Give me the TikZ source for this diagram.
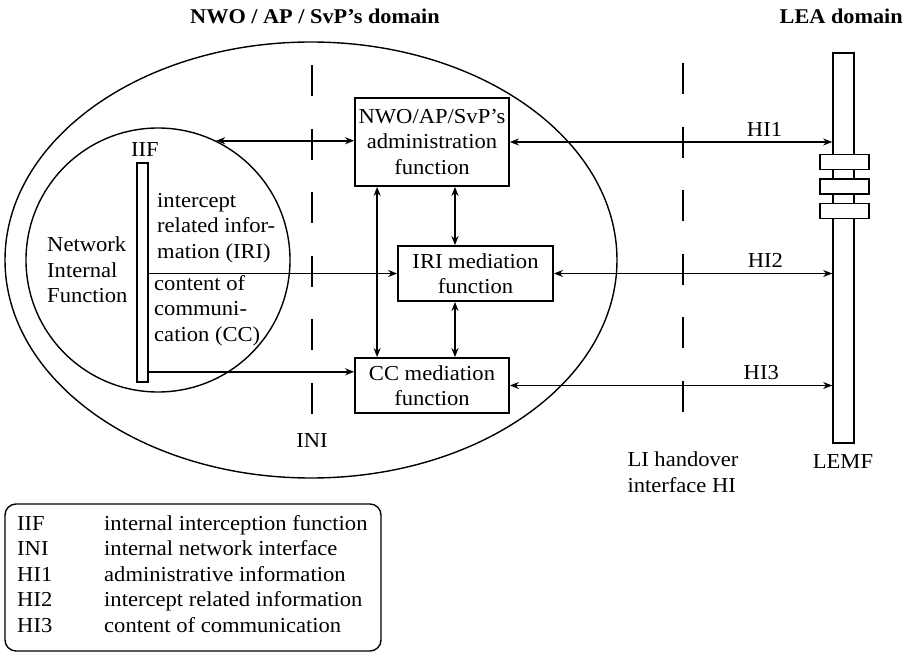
\documentclass[tikz,border=0pt]{standalone}
\usepackage{fontspec}
\setmainfont{Liberation Serif}[FakeStretch=1.06]
\usetikzlibrary{arrows.meta,shapes.geometric,calc}
\begin{document}
\begin{tikzpicture}[x=1pt,y=-1pt,
  every node/.style={font=\fontsize{21.3}{25.5}\selectfont, inner sep=0pt},
  title/.style={font=\fontsize{21}{25}\selectfont\bfseries},
  fbox/.style={draw, line width=1.8pt, minimum width=154pt, align=center},
  bar/.style={draw, line width=1.6pt, fill=white},
  link/.style={line width=1.6pt, -{Stealth[length=9pt,width=7pt]}},
  dlink/.style={line width=1.6pt, {Stealth[length=9pt,width=7pt]}-{Stealth[length=9pt,width=7pt]}},
  iface/.style={line width=1.7pt, dash pattern=on 31pt off 32.6pt},
  ring/.style={draw, line width=1.4pt},
  lbl/.style={align=left, anchor=north west}]
\useasboundingbox (0,0) rectangle (903,652);

% headings
\node[title] (hdnwo) at (315,16) {NWO / AP / SvP’s domain};
\node[title, anchor=east] (hdlea) at (903,16) {LEA domain};

% operator domain and network internal function
\node[ellipse, ring, minimum width=612pt, minimum height=436pt] (dom) at (311,260) {};
\node[circle, ring, minimum size=264pt] (nif) at (158,260) {};
\node[align=left, anchor=west] (niftxt) at (47,270) {Network\\Internal\\Function};

% internal interception function bar
\node[bar, minimum width=11pt, minimum height=219pt] (iif) at (142.5,272.5) {};
\node (iiftxt) at (145,150) {IIF};
\node[lbl] (iritxt) at (157,193) {intercept\\related infor-\\mation (IRI)};
\node[lbl] (cctxt) at (154,275) {content of\\communi-\\cation (CC)};

% interfaces
\draw[iface] (312,65) -- (312,416);
\draw[iface] (683,63) -- (683,414);
\node (ini) at (312,441) {INI};
\node[align=left] (hi) at (683,472) {LI handover\\interface HI};

% mediation functions
\node[fbox, minimum height=88pt] (adm) at (432,142) {NWO/AP/SvP’s\\administration\\function};
\node[fbox, minimum width=155pt, minimum height=55pt] (iri) at (475.5,273.5) {IRI mediation\\function};
\node[fbox, minimum height=55pt] (cc) at (432,385.5) {CC mediation\\function};

% law enforcement monitoring facility
\node[bar, minimum width=21pt, minimum height=390pt] (lemf) at (843.5,248) {};
\node[bar, minimum width=49pt, minimum height=15pt] (lb1) at (844.5,162) {};
\node[bar, minimum width=49pt, minimum height=15pt] (lb2) at (844.5,186.5) {};
\node[bar, minimum width=49pt, minimum height=15pt] (lb3) at (844.5,211) {};
\node (lemftxt) at (843,462) {LEMF};

% connections
\draw[dlink] (nif.64.5) -- (nif.64.5 -| adm.west);
\draw[link] (iif.east |- iri.west) -- (iri.west);
\coordinate (ccout) at ($(iif.south east)+(0,-11)$);
\draw[link] (ccout) -- (ccout -| cc.west);
\coordinate (admleft) at ($(adm.south west)+(23,0)$);
\coordinate (admright) at ($(adm.south)+(23,0)$);
\draw[dlink] (admleft) -- (admleft |- cc.north);
\draw[dlink] (admright) -- (admright |- iri.north);
\draw[dlink] (admright |- iri.south) -- (admright |- cc.north);

\draw[dlink] (adm.east) -- (adm.east -| lemf.west) node[pos=0.79, above=5pt] (hi1) {HI1};
\draw[dlink] (iri.east) -- (iri.east -| lemf.west) node[pos=0.76, above=5pt] (hi2) {HI2};
\draw[dlink] (cc.east) -- (cc.east -| lemf.west) node[pos=0.78, above=5pt] (hi3) {HI3};

% legend
\draw[line width=1.4pt, rounded corners=11pt] (5,504) rectangle (381,651);
\node[lbl] (legend) at (17,515) {%
  \makebox[87pt][l]{IIF}internal interception function\\
  \makebox[87pt][l]{INI}internal network interface\\
  \makebox[87pt][l]{HI1}administrative information\\
  \makebox[87pt][l]{HI2}intercept related information\\
  \makebox[87pt][l]{HI3}content of communication};
\end{tikzpicture}
\end{document}
